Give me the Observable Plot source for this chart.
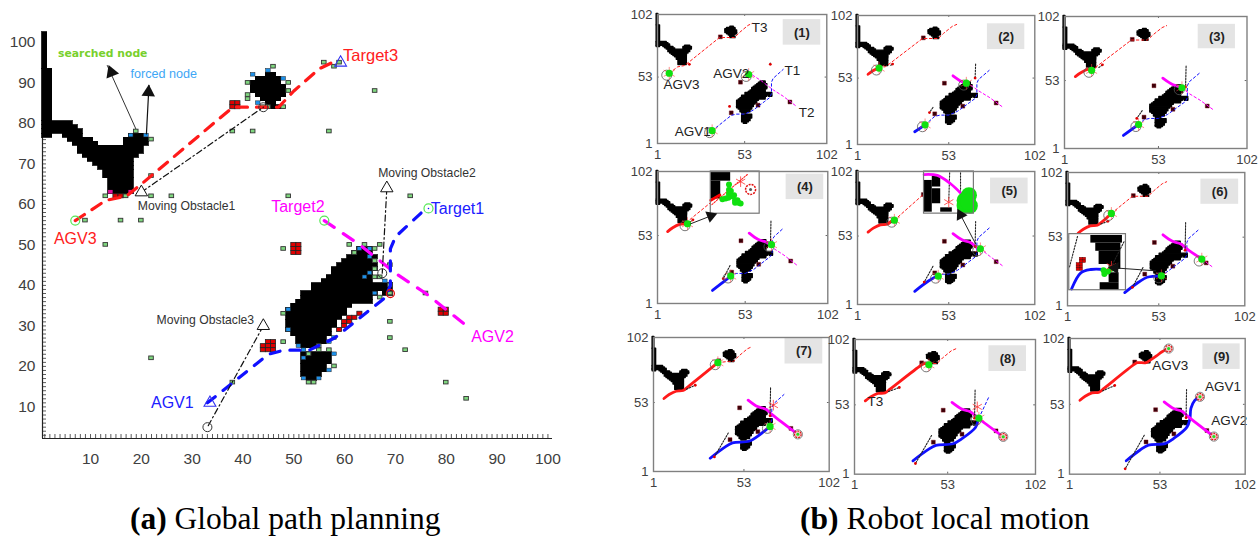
<!DOCTYPE html>
<html><head><meta charset="utf-8">
<script src="https://cdn.jsdelivr.net/npm/d3@7"></script>
<script src="https://cdn.jsdelivr.net/npm/@observablehq/plot@0.6"></script>
<style>
html,body{margin:0;padding:0;background:#fff;width:1258px;height:538px;overflow:hidden;position:relative}
.cap{position:absolute;font-family:"Liberation Serif",serif;font-size:31.5px;color:#000;white-space:nowrap;line-height:32px}
</style></head><body>
<div id="root"></div>
<script>
// ---------- data (grid units) ----------
const obstacleBlocks = [ // [yHigh,yLow,xLow,xHigh]
[102,94,1,1],[93,81,1,2],[80,80,1,6],[79,79,1,7],[78,78,1,8],[77,77,1,2],[77,77,5,8],[77,77,18,20],
[76,76,6,10],[76,76,17,21],[75,75,7,11],[75,75,17,21],[74,73,8,20],[72,72,9,19],[71,71,10,18],[70,70,11,18],
[69,69,12,18],[68,67,13,18],[66,63,14,18],
[91,91,43,47],[90,90,42,47],[89,88,42,48],[87,87,43,48],[86,86,44,47],[85,85,45,46],[84,84,45,47],[92,92,45,46],
[49,49,63,65],[48,48,62,65],[47,47,61,66],[46,46,60,65],[45,45,59,66],[44,44,58,66],[43,43,58,65],[42,42,57,65],
[41,41,56,65],[40,39,54,69],[38,38,52,66],[38,38,68,69],[37,37,52,65],[36,36,51,65],[35,35,50,61],[34,33,49,60],
[32,32,49,59],[31,30,49,58],[29,29,49,57],[28,28,50,57],[27,26,51,56],[25,25,52,54],
[23,21,52,57],[20,19,52,56],[18,18,52,55],[17,17,53,54]];
const searchedNodes = [[19,78],[22,76],[38,78],[42,78],[22,67],[13,62],[17,62],[22,62],[26,62],[49,62],[9,56],[16,56],[20,56],[13,50],
[48,49],[41,90],[41,87],[41,86],[46,94],[49,90],[49,88],[48,84],[44,84],[45,84],[58,94],[59,95],[56,95],[66,88],[57,78],[73,62],
[61,50],[64,50],[67,50],[66,49],[62,48],[69,45],[66,46],[66,44],[66,42],[67,42],[69,40],[69,38],[76,38],[67,37],[48,33],[69,31],
[69,27],[72,24],[48,26],[57,24],[53,23],[55,25],[55,24],[58,20],[53,16],[54,16],[22,22],[38,16],[80,16],[84,12]];
const forcedNodes = [[18,77],[21,77],[42,92],[45,93],[48,91],[43,85],[63,49],[65,49],[65,47],[65,43],[68,41],[66,38],[49,34],[49,29],
[51,25],[52,24],[58,27],[57,26],[52,22],[58,23],[57,19],[52,17],[55,17],[64,42]];
const cornerNodes = [[14,63],[18,63]];
const dangerCells = [[38,85],[39,85],[38,84],[39,84],[50,50],[51,50],[50,49],[51,49],[50,48],[51,48],[45,26],[46,26],[44,25],[45,25],[46,25],
[44,24],[45,24],[46,24],[63,33],[62,32],[61,32],[61,31],[60,31],[60,30],[59,29],[79,34],[80,34],[79,33],[80,33],[15,62],[16,62]];
const globalRed = [[7,56],[13,61],[17,62],[20,65],[38,84],[44,84],[47,84],[50,88],[55,93.5],[57.5,95]];
const globalMagenta = [[56,56],[63,50],[66,47],[70,43],[76,38],[84,30]];
const globalBlue = [[33,11],[45,23],[48,24],[53,24],[58,27],[65,34],[68,37],[69,40],[69,49],[70,52],[76,59]];
const movingStart = [[20,63],[68.3,64],[44,30]];
const movingEnd = [[44,84],[67.4,43],[33,5]];
const mainLabels = [
 ["Target3",65.1,96.8,"#ff2020",16.5],["Target2",50.8,59.5,"#ff00ff",16],["AGV3",7,51.4,"#ff2020",16],["Target1",82.2,58.8,"#2020ff",16],
 ["AGV1",26.1,10.9,"#2020ff",16],["AGV2",89.1,27.2,"#ff00ff",16]];
const obstacleLabels = [["Moving Obstacle1",28.9,59.5],["Moving Obstacle2",76.2,67.7],["Moving Obstacle3",32.6,31.4]];
const finalRed = [[7,56],[10,59],[14,61.5],[18,62],[21,65],[38,82.5],[40,84],[45,84],[47,85.5],[51,89],[54,92],[58,94.5]];
const finalBlue = [[33.6,11],[41.6,19],[46.4,22.6],[56,23.8],[60.8,27.5],[68.5,36],[70.2,42],[70.8,50],[73,56],[76,58.6]];
const finalMagenta = [[55.4,54.8],[60.8,49.9],[65.6,47.9],[69.4,43.7],[84,29]];
const redEnds = [[8,56],[13.3,60.8],[16,60.8],[18.8,62],[22,65],[26,71],[38,83],[42.5,83],[58,94.5]];
const blueEnds = [[33.6,11],[39.5,16.4],[42,19.3],[44.4,22],[47,22.5],[54.5,23.7],[68,35],[70.4,43],[76,58.6]];
const magentaEnds = [[55.4,55],[63,49],[66,47.5],[68.6,46],[71,43.3],[77.5,36.4],[84,29],[84,29],[84,29]];
const obstacle1Now = [[20,63],[21,64],[22,65],[22,65],[23,65],[24,65],[25,66],[26,66],[27,67]];
const obstacle2Now = [[68.3,63],[68,53],[68,48],[68,47],[68,45],[68,43],[68,43],[68,43],[68,43]];
const obstacle3Now = [[44,30],[42,26],[41,24],[40,20],[39,18],[38,15],[36,12],[35,9],[33,5]];
const movingDots = [[38.5,84.5],[50.5,49],[45,25],[61,31],[80,33.5]];
const panelLabels = [
 [["T3",62,91.8],["T1",81.5,58.4],["T2",90,25],["AGV3",15.3,46.7],["AGV2",45,55.3],["AGV1",22,9.9]],
 [],[],[],[],[],[],[["T3",12.7,55.3]],[["AGV3",58.9,82],["AGV1",89.2,66],["AGV2",92.8,41.2]]];
const labelBoxes = [[76,98.4,78,98],[75,96.3,75.3,95.5],[75,95.6,77.3,96],[77.3,99.6,80.5,100],[76.8,98.2,77.4,97],[77,98.5,77.9,97],[76.6,98.3,82,102],[76,97,78,97.3],[77.7,99.1,79,98]];
const extraStars = {6:[[69.9,51]],7:[[69.5,51.5]]};

// insets, in the host panel's grid units
const insets = {
 3:{frame:[32.6,61.6,69.7,102],
    black:[[32.6,44.4,94.6,102],[32.6,38.5,81,94.6]],
    path:[[[38,84],[32.6,80]]],pathColor:"#ff0000",
    dotted:[[[54.3,99.7],[32.6,76]]],dottedColor:"#ff2020",
    green:[[43.4,92],[43.4,88],[43.4,85],[46.4,83.8],[41.4,81.4],[48.4,80],[50.3,77.5],[39.5,80.7],[44.5,87],[47,80],[45,83],[43,82],[47,78],[49,78]],greenR:3,
    stars:[[50.3,94.2]],rings:[[56.2,88.3]],
    arrow:[[20.7,62],[32.6,68]],rot:70},
 4:{frame:[38.9,67.3,70,102],
    black:[[38.9,43.6,71.1,95.2],[43.6,48.4,90.2,98.2],[43.6,48.4,77.5,88.9],[48.4,55,71.1,74.4]],
    path:[[[38.9,99.7],[46.5,99],[54,92.7],[59.7,85.7]]],pathColor:"#ff00ff",
    dotted:[[[53.5,101],[53,80]],[[59.7,101],[59.7,86]]],dottedColor:"#222",
    green:[[62,80],[64.5,84],[62,76],[65,76],[64,79]],greenR:8,
    stars:[[53,78.7]],rings:[],
    arrow:[[68.3,47],[59.7,69]],rot:-20},
 5:{frame:[2,34.3,12.8,55.3],
    black:[[14.3,32.3,48.5,54.3],[17.1,31.4,42.3,48.5],[19,31.4,32.3,42.3],[24.7,31.4,28.5,32.3],[19.6,30.4,12.8,18.5],[24.7,30.4,18.5,26]],
    cells:[[8,36.4],[9.8,36.4],[8,34.4],[9.8,34.4],[6.2,32.4],[8,32.4],[6.2,30.4],[8,30.4],[6.2,28.4],[8,28.4]],
    path:[[[3.3,13.7],[8.6,26],[14.3,28.5],[21.9,28.5]]],pathColor:"#1010ff",
    dotted:[[[6.7,53.5],[2,29.7]],[[26.6,32.3],[33.3,49.8]]],dottedColor:"#222",
    green:[[24,27],[21.5,28],[22,25],[26,29]],greenR:3,
    stars:[[26,31]],rings:[],
    arrow:[[51.3,27.5],[28,29.7]],rot:-90}
};

// ---------- layout ----------
const panelBoxes = [[656.7,14.3,826,143.3],[856.7,15,1034,144],[1063.5,16,1246,148],[656.7,171,827,303],[856.7,171,1034,304],[1066.7,171.7,1244,305],[653.3,336.7,829,470.7],[854,339.3,1035,474],[1069.3,338.3,1245,474]];
const root = document.getElementById("root");
const sans = '"Liberation Sans",Arial,sans-serif';
const blockRect = (opts={}) => Plot.rect(obstacleBlocks,{x1:d=>d[2]-.5,x2:d=>d[3]+.5,y1:d=>d[1]-.5,y2:d=>d[0]+.5,fill:"#000",stroke:"#000",...opts});
const square = (data,r,opts) => Plot.rect(data,{x1:d=>d[0]-r,x2:d=>d[0]+r,y1:d=>d[1]-r,y2:d=>d[1]+r,...opts});
const xy = {x:d=>d[0],y:d=>d[1]};
const tipRotate = (from,to,sx,sy)=>Math.atan2((to[0]-from[0])*sx,(to[1]-from[1])*sy)*180/Math.PI;

// ---------- panel (a) ----------
const pairs = movingStart.map((s,i)=>[s,movingEnd[i]]);
const mainPlot = Plot.plot({
  width:556,height:470,marginLeft:42,marginRight:4,marginTop:33,marginBottom:32,
  style:{position:"absolute",left:"0px",top:"0px",fontFamily:sans,fontSize:"15.5px",color:"#404040",overflow:"visible",background:"transparent"},
  x:{domain:[.55,100.9],axis:null,label:null},y:{domain:[2.2,102.2],axis:null,label:null},
  marks:[
    Plot.axisY({ticks:d3.range(3,103),tickSize:-4,tickFormat:()=>"",stroke:"#333",strokeWidth:.8}),
    Plot.axisX({ticks:d3.range(1,101),tickSize:-4,tickFormat:()=>"",stroke:"#333",strokeWidth:.8}),
    Plot.axisY({ticks:d3.range(10,101,10),tickSize:0,tickPadding:7}),
    Plot.axisX({ticks:d3.range(10,101,10),tickSize:0,tickPadding:14}),
    Plot.ruleX([.55],{stroke:"#222",strokeWidth:1.2}),
    Plot.ruleY([2.2],{stroke:"#222",strokeWidth:1.2}),
    blockRect({strokeWidth:.8,shapeRendering:"crispEdges"}),
    square(dangerCells,.5,{fill:"#e00000",stroke:"#222",strokeWidth:.8}),
    square(searchedNodes,.45,{fill:"#7fd67f",stroke:"#333",strokeWidth:.9}),
    square(forcedNodes,.45,{fill:"#1e90e8",stroke:"#222",strokeWidth:.5}),
    square(cornerNodes,.45,{fill:"#e0109a"}),
    Plot.line(globalRed,{...xy,stroke:"#ff1a1a",strokeWidth:3.2,strokeDasharray:"11,9"}),
    Plot.line(globalMagenta,{...xy,stroke:"#ff00ff",strokeWidth:3.2,strokeDasharray:"12,11"}),
    Plot.line(globalBlue,{...xy,stroke:"#1010ff",strokeWidth:3.2,strokeDasharray:"10,10"}),
    ...pairs.map(p=>Plot.line(p,{...xy,stroke:"#111",strokeWidth:1.2,strokeDasharray:"6,3,1.5,3"})),
    Plot.dot(movingStart,{...xy,symbol:"triangle",r:4.6,stroke:"#111",fill:"#fff",strokeWidth:1}),
    Plot.dot(movingEnd,{...xy,r:4.5,stroke:"#333",fill:"none",strokeWidth:1}),
    Plot.dot([[7,56],[76.5,59],[56,56]],{...xy,r:4.5,stroke:"#55e855",fill:"none",strokeWidth:1.2}),
    Plot.dot([[69,38]],{...xy,r:4,stroke:"#e01010",fill:"none",strokeWidth:1.3}),
    Plot.dot([[33.5,11],[59.2,95]],{...xy,symbol:"triangle",r:4.4,stroke:"#3030f0",fill:"none",strokeWidth:1.1}),
    Plot.dot([[76.5,59]],{...xy,r:.8,fill:"#1010ff"}),
    Plot.line([[18.9,78.7],[13.3,94.3]],{...xy,stroke:"#333",strokeWidth:1}),
    Plot.line([[21,77.4],[21.5,89.4]],{...xy,stroke:"#111",strokeWidth:1.2}),
    Plot.dot([[14.1,92.6]],{...xy,symbol:"triangle",r:5,fill:"#111",rotate:-21}),
    Plot.dot([[21.4,87.7]],{...xy,symbol:"triangle",r:5,fill:"#111",rotate:3}),
    Plot.text(mainLabels,{text:d=>d[0],x:d=>d[1],y:d=>d[2],fill:d=>d[3],fontSize:d=>d[4]}),
    Plot.text(obstacleLabels,{text:d=>d[0],x:d=>d[1],y:d=>d[2],fill:"#333",fontSize:12.2}),
    Plot.text(["searched node"],{x:[12.4],y:[97.3],text:d=>d,fill:"#78d02c",fontWeight:"bold",fontSize:10.8,fontFamily:"DejaVu Sans"}),
    Plot.text(["forced node"],{x:[24.4],y:[92.1],text:d=>d,fill:"#3ea6f5",fontSize:12.6}),
  ]
});
root.appendChild(mainPlot);

// ---------- panels (b) ----------
function agentMarks(color, final, global, end, goalX){
  const travelled = [...final.filter(p=>p[0]<end[0]),end];
  const rest = [end,...global.filter(p=>p[0]>end[0])];
  const arrived = end[0]===goalX;
  const m = [];
  if(!arrived) m.push(Plot.line(rest,{...xy,stroke:color,strokeWidth:1,strokeDasharray:"2.5,2.5"}));
  m.push(Plot.line(travelled,{...xy,stroke:color,strokeWidth:2.8,curve:"catmull-rom"}));
  return [m,end,arrived];
}
function panel(i){
  const [l,t,r,b] = panelBoxes[i];
  const mL=30,mR=22,mT=6,mB=24;
  const sx=(r-l)/101, sy=(b-t)/101;
  const agents=[agentMarks("#ff1a1a",finalRed,globalRed,redEnds[i],58),
                agentMarks("#1010ff",finalBlue,globalBlue,blueEnds[i],76),
                agentMarks("#ff00ff",finalMagenta,globalMagenta,magentaEnds[i],84)];
  const moving=[obstacle1Now[i],obstacle2Now[i],obstacle3Now[i]];
  const lb=labelBoxes[i];
  const inset=insets[i];
  const marks=[
    Plot.rect([lb],{x1:d=>d[0],x2:d=>d[1],y1:d=>d[2],y2:d=>d[3],fill:"#e4e4e4"}),
    Plot.text([`(${i+1})`],{x:[(lb[0]+lb[1])/2],y:[(lb[2]+lb[3])/2],text:d=>d,fontWeight:"bold",fontSize:13,fill:"#222"}),
    Plot.ruleX([53],{y1:1,y2:2.5,stroke:"#666"}),Plot.ruleY([53],{x1:1,x2:2,stroke:"#666"}),
    Plot.ruleY([53],{x1:101,x2:102,stroke:"#666"}),Plot.ruleX([53],{y1:100.5,y2:102,stroke:"#666"}),
    blockRect({strokeWidth:1.4,strokeLinejoin:"round"}),
    Plot.dot(movingDots,{...xy,symbol:"square",r:2.2,fill:"#3a0008",stroke:"#7a0010",strokeWidth:.4}),
    ...agents.flatMap(a=>a[0]),
    ...moving.map((p,k)=>Plot.line([movingStart[k],p],{...xy,stroke:"#222",strokeWidth:1.1,strokeDasharray:"1.5,1.5"})),
    Plot.dot(moving,{...xy,r:1.4,fill:"#e00000"}),
    Plot.dot(extraStars[i]||[],{...xy,symbol:"asterisk",r:5,stroke:"#ff3030",strokeWidth:.8}),
  ];
  for(const [,end,arrived] of agents){
    if(arrived){
      marks.push(Plot.dot([end],{...xy,r:3.4,stroke:"#e01010",fill:"#f2c0c0",strokeWidth:1.1,strokeDasharray:"2,1"}),
                 Plot.dot([end],{...xy,r:4.6,stroke:"#555",fill:"none",strokeWidth:.7}),
                 Plot.dot([end],{...xy,r:1.5,fill:"#20e020"}));
    }else{
      marks.push(Plot.dot([[end[0]-1.5,end[1]-1.5]],{...xy,r:5,stroke:"#555",fill:"none",strokeWidth:.8}),
                 Plot.dot([end],{...xy,symbol:"asterisk",r:6,stroke:"#ff4040",strokeWidth:.6}),
                 Plot.dot([end],{...xy,r:3.6,fill:"#10e010"}));
    }
  }
  if(inset){
    marks.push(
      Plot.rect([inset.frame],{x1:d=>d[0],x2:d=>d[1],y1:d=>d[2],y2:d=>d[3],fill:"#fff"}),
      Plot.rect(inset.black,{x1:d=>d[0],x2:d=>d[1],y1:d=>d[2],y2:d=>d[3],fill:"#000"})
    );
    if(inset.cells) marks.push(Plot.rect(inset.cells,{x1:d=>d[0],x2:d=>d[0]+1.8,y1:d=>d[1]-1,y2:d=>d[1]+1,fill:"#e00000",stroke:"#400",strokeWidth:.4}));
    inset.dotted.forEach(p=>marks.push(Plot.line(p,{...xy,stroke:inset.dottedColor,strokeWidth:1.1,strokeDasharray:"1.5,1.5"})));
    inset.path.forEach(p=>marks.push(Plot.line(p,{...xy,stroke:inset.pathColor,strokeWidth:2.8,curve:"catmull-rom"})));
    marks.push(
      Plot.dot(inset.green,{...xy,r:inset.greenR||4.5,fill:"#10e010"}),
      Plot.dot(inset.stars,{...xy,symbol:"asterisk",r:5,stroke:"#ff3030",strokeWidth:.8}),
      Plot.dot(inset.rings,{...xy,r:5,stroke:"#e01010",strokeDasharray:"2,1",strokeWidth:1.5,fill:"none"}),
      Plot.dot(inset.rings,{...xy,r:1.5,fill:"#555"}),
      Plot.rect([inset.frame],{x1:d=>d[0],x2:d=>d[1],y1:d=>d[2],y2:d=>d[3],fill:"none",stroke:"#777",strokeWidth:1.2}),
      Plot.line(inset.arrow,{...xy,stroke:"#222",strokeWidth:1}),
      Plot.dot([inset.arrow[1]],{...xy,symbol:"triangle",r:4.5,fill:"#111",rotate:tipRotate(inset.arrow[0],inset.arrow[1],sx,sy)})
    );
  }
  marks.push(
    Plot.text(panelLabels[i],{text:d=>d[0],x:d=>d[1],y:d=>d[2],fill:"#222",fontSize:13.5}),
    Plot.frame({stroke:"#808080",strokeWidth:1.4}),
    Plot.axisX({ticks:[1,53,102],tickSize:0,tickPadding:6}),
    Plot.axisY({ticks:[1,53,102],tickSize:0,tickPadding:5})
  );
  return Plot.plot({
    width:r-l+mL+mR,height:b-t+mT+mB,marginLeft:mL,marginRight:mR,marginTop:mT,marginBottom:mB,
    style:{position:"absolute",left:(l-mL)+"px",top:(t-mT)+"px",fontFamily:sans,fontSize:"13px",color:"#404040",overflow:"visible",background:"transparent"},
    x:{domain:[1,102],axis:null,label:null},y:{domain:[1,102],axis:null,label:null},
    marks
  });
}
panelBoxes.forEach((_,i)=>root.appendChild(panel(i)));

const captions=[["(a)"," Global path planning",130],["(b)"," Robot local motion",800]];
for(const [a,rest,left] of captions){
  const d=document.createElement("div");d.className="cap";d.style.left=left+"px";d.style.top="503px";
  const s=document.createElement("b");s.textContent=a;d.appendChild(s);d.appendChild(document.createTextNode(rest));
  root.appendChild(d);
}
</script></body></html>
